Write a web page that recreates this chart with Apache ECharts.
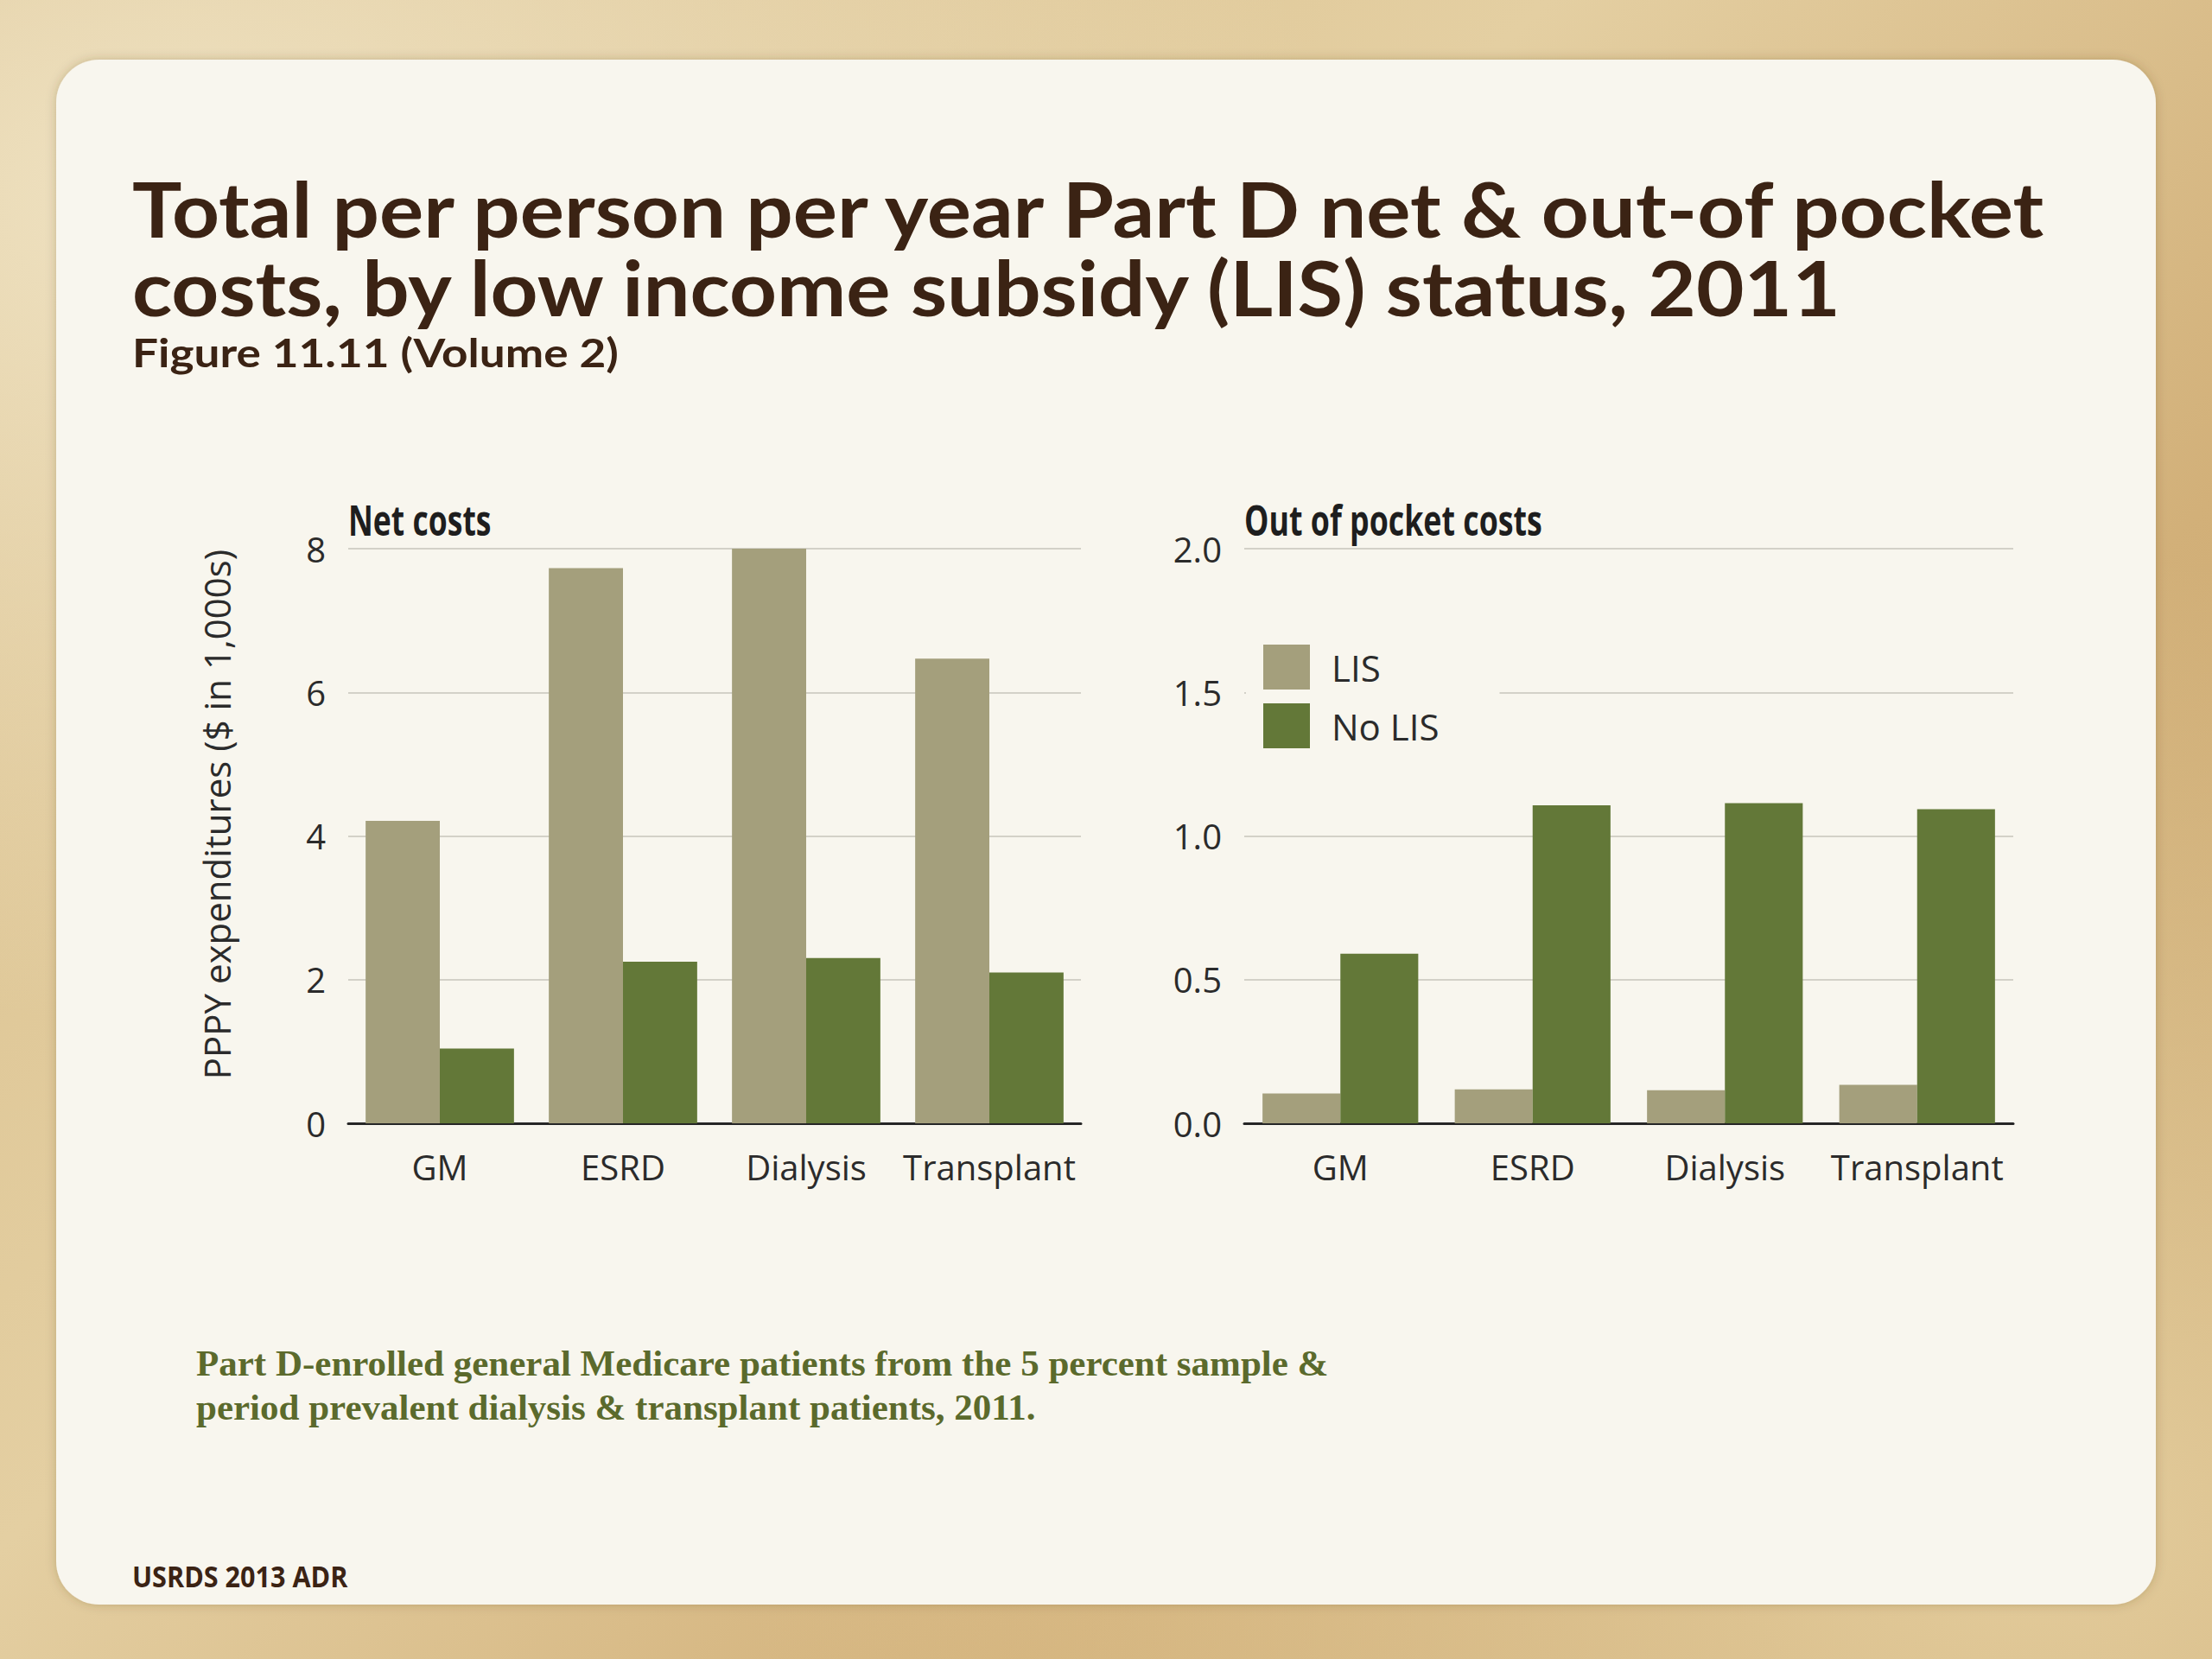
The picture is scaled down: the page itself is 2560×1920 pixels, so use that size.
<!DOCTYPE html>
<html>
<head>
<meta charset="utf-8">
<script src="https://cdn.jsdelivr.net/npm/echarts@6/dist/echarts.min.js"></script>
<style>
  html, body { margin:0; padding:0; width:2560px; height:1920px; overflow:hidden; }
  body {
    background:
      radial-gradient(ellipse at 8% 12%, #efe2c2 0%, rgba(239,226,194,0) 40%),
      radial-gradient(ellipse at 92% 92%, #e3cc9c 0%, rgba(227,204,156,0) 45%),
      linear-gradient(135deg, #d8bd89 0%, #e4cfa2 40%, #d2b079 70%, #c49f66 100%);
  }
  #chart { width:2560px; height:1920px; }
</style>
</head>
<body>
<div id="chart"></div>
<script>
// ---- data ----
const categories = ['GM', 'ESRD', 'Dialysis', 'Transplant'];
const netLIS      = [4.21, 7.73, 8.00, 6.47];
const netNoLIS    = [1.04, 2.25, 2.30, 2.10];
const oopLIS      = [0.104, 0.118, 0.115, 0.134];
const oopNoLIS    = [0.59, 1.107, 1.114, 1.093];
const netTicks    = [0, 2, 4, 6, 8];
const oopTicks    = [0.0, 0.5, 1.0, 1.5, 2.0];
const seriesNames = ['LIS', 'No LIS'];

const titleLines  = ['Total per person per year Part D net & out-of pocket',
                     'costs, by low income subsidy (LIS) status, 2011'];
const figureLabel = 'Figure 11.11 (Volume 2)';
const footLines   = ['Part D-enrolled general Medicare patients from the 5 percent sample &',
                     'period prevalent dialysis & transplant patients, 2011.'];
const sourceLabel = 'USRDS 2013 ADR';
const panelTitles = ['Net costs', 'Out of pocket costs'];
const yAxisName   = 'PPPY expenditures ($ in 1,000s)';

// ---- style ----
const COL_LIS = '#a49f7c';
const COL_NOLIS = '#637838';
const PANEL = '#f8f6ee';
const BROWN = '#3b2314';
const AXISFONT = '"Open Sans", "Noto Sans", sans-serif';
const CONDFONT = '"Open Sans", "Noto Sans", sans-serif';
const TITLEFONT = 'Lato, "DejaVu Sans", sans-serif';

const chart = echarts.init(document.getElementById('chart'), null, { renderer: 'svg' });

function xAxisCfg(gi) {
  return {
    type: 'category', gridIndex: gi, data: categories,
    axisLine: { show: true, lineStyle: { color: '#262626', width: 3 } },
    axisTick: { show: false },
    axisLabel: { color: '#2b2b2b', fontFamily: AXISFONT, fontSize: 40, margin: 30,
                 interval: 0, hideOverlap: false }
  };
}
function yAxisCfg(gi, ticks, dec) {
  return {
    type: 'value', gridIndex: gi,
    min: ticks[0], max: ticks[ticks.length - 1], interval: ticks[1] - ticks[0],
    axisLine: { show: false }, axisTick: { show: false },
    splitLine: { show: true, lineStyle: { color: '#d3d1c8', width: 2 } },
    axisLabel: { color: '#2b2b2b', fontFamily: AXISFONT, fontSize: 40, margin: 26,
                 formatter: v => v.toFixed(dec) }
  };
}
function barSeries(name, data, xi, color) {
  return {
    name: name, type: 'bar', xAxisIndex: xi, yAxisIndex: xi, data: data,
    barGap: '0%', barCategoryGap: '19%',
    itemStyle: { color: color }, emphasis: { disabled: true }
  };
}

const option = {
  animation: false,
  backgroundColor: 'transparent',
  textStyle: { fontFamily: AXISFONT },
  grid: [
    { left: 403, right: 2560 - 1251, top: 635, bottom: 1920 - 1300, containLabel: false },
    { left: 1440, right: 2560 - 2330, top: 635, bottom: 1920 - 1300, containLabel: false }
  ],
  xAxis: [xAxisCfg(0), xAxisCfg(1)],
  yAxis: [
    Object.assign(yAxisCfg(0, netTicks, 0), {
      name: yAxisName, nameLocation: 'middle', nameRotate: 90, nameGap: 132,
      nameTextStyle: { color: '#2b2b2b', fontFamily: AXISFONT, fontSize: 42, padding: [0, 0, 0, 50] }
    }),
    yAxisCfg(1, oopTicks, 1)
  ],
  legend: {
    data: seriesNames, orient: 'vertical',
    left: 1442, top: 724,
    padding: [22, 70, 22, 20],
    backgroundColor: PANEL,
    itemWidth: 54, itemHeight: 52, itemGap: 16,
    textStyle: { color: '#2b2b2b', fontFamily: AXISFONT, fontSize: 42, padding: [0, 0, 0, 20] },
    icon: 'rect'
  },
  series: [
    barSeries(seriesNames[0], netLIS, 0, COL_LIS),
    barSeries(seriesNames[1], netNoLIS, 0, COL_NOLIS),
    barSeries(seriesNames[0], oopLIS, 1, COL_LIS),
    barSeries(seriesNames[1], oopNoLIS, 1, COL_NOLIS)
  ],
  graphic: [
    { type: 'rect', z: -100, silent: true,
      shape: { x: 65, y: 69, width: 2430, height: 1788, r: 50 },
      style: { fill: PANEL, shadowBlur: 12, shadowColor: 'rgba(80,60,30,0.25)' } },
    { type: 'text', x: 153, y: 196, z: 10, scaleX: 1.09,
      style: { text: titleLines.join('\n'), fill: BROWN, lineHeight: 91,
               font: 'bold 88px ' + TITLEFONT, verticalAlign: 'top' } },
    { type: 'text', x: 153, y: 385, z: 10, scaleX: 1.18,
      style: { text: figureLabel, fill: BROWN, lineHeight: 44,
               font: 'bold 45px ' + TITLEFONT, verticalAlign: 'top' } },
    { type: 'text', x: 403, y: 577, z: 10, scaleX: 0.74,
      style: { text: panelTitles[0], fill: '#1e1e1e', font: 'bold 48px ' + CONDFONT, verticalAlign: 'top' } },
    { type: 'text', x: 1440, y: 577, z: 10, scaleX: 0.745,
      style: { text: panelTitles[1], fill: '#1e1e1e', font: 'bold 48px ' + CONDFONT, verticalAlign: 'top' } },
    { type: 'text', x: 227, y: 1552, z: 10,
      style: { text: footLines.join('\n'), fill: '#5b6a2c', lineHeight: 51,
               font: 'bold 43px "Liberation Serif", "DejaVu Serif", serif', verticalAlign: 'top' } },
    { type: 'text', x: 153, y: 1806, z: 10, scaleX: 0.9,
      style: { text: sourceLabel, fill: BROWN, font: 'bold 34px ' + CONDFONT, verticalAlign: 'top' } }
  ]
};
chart.setOption(option);
</script>
</body>
</html>
